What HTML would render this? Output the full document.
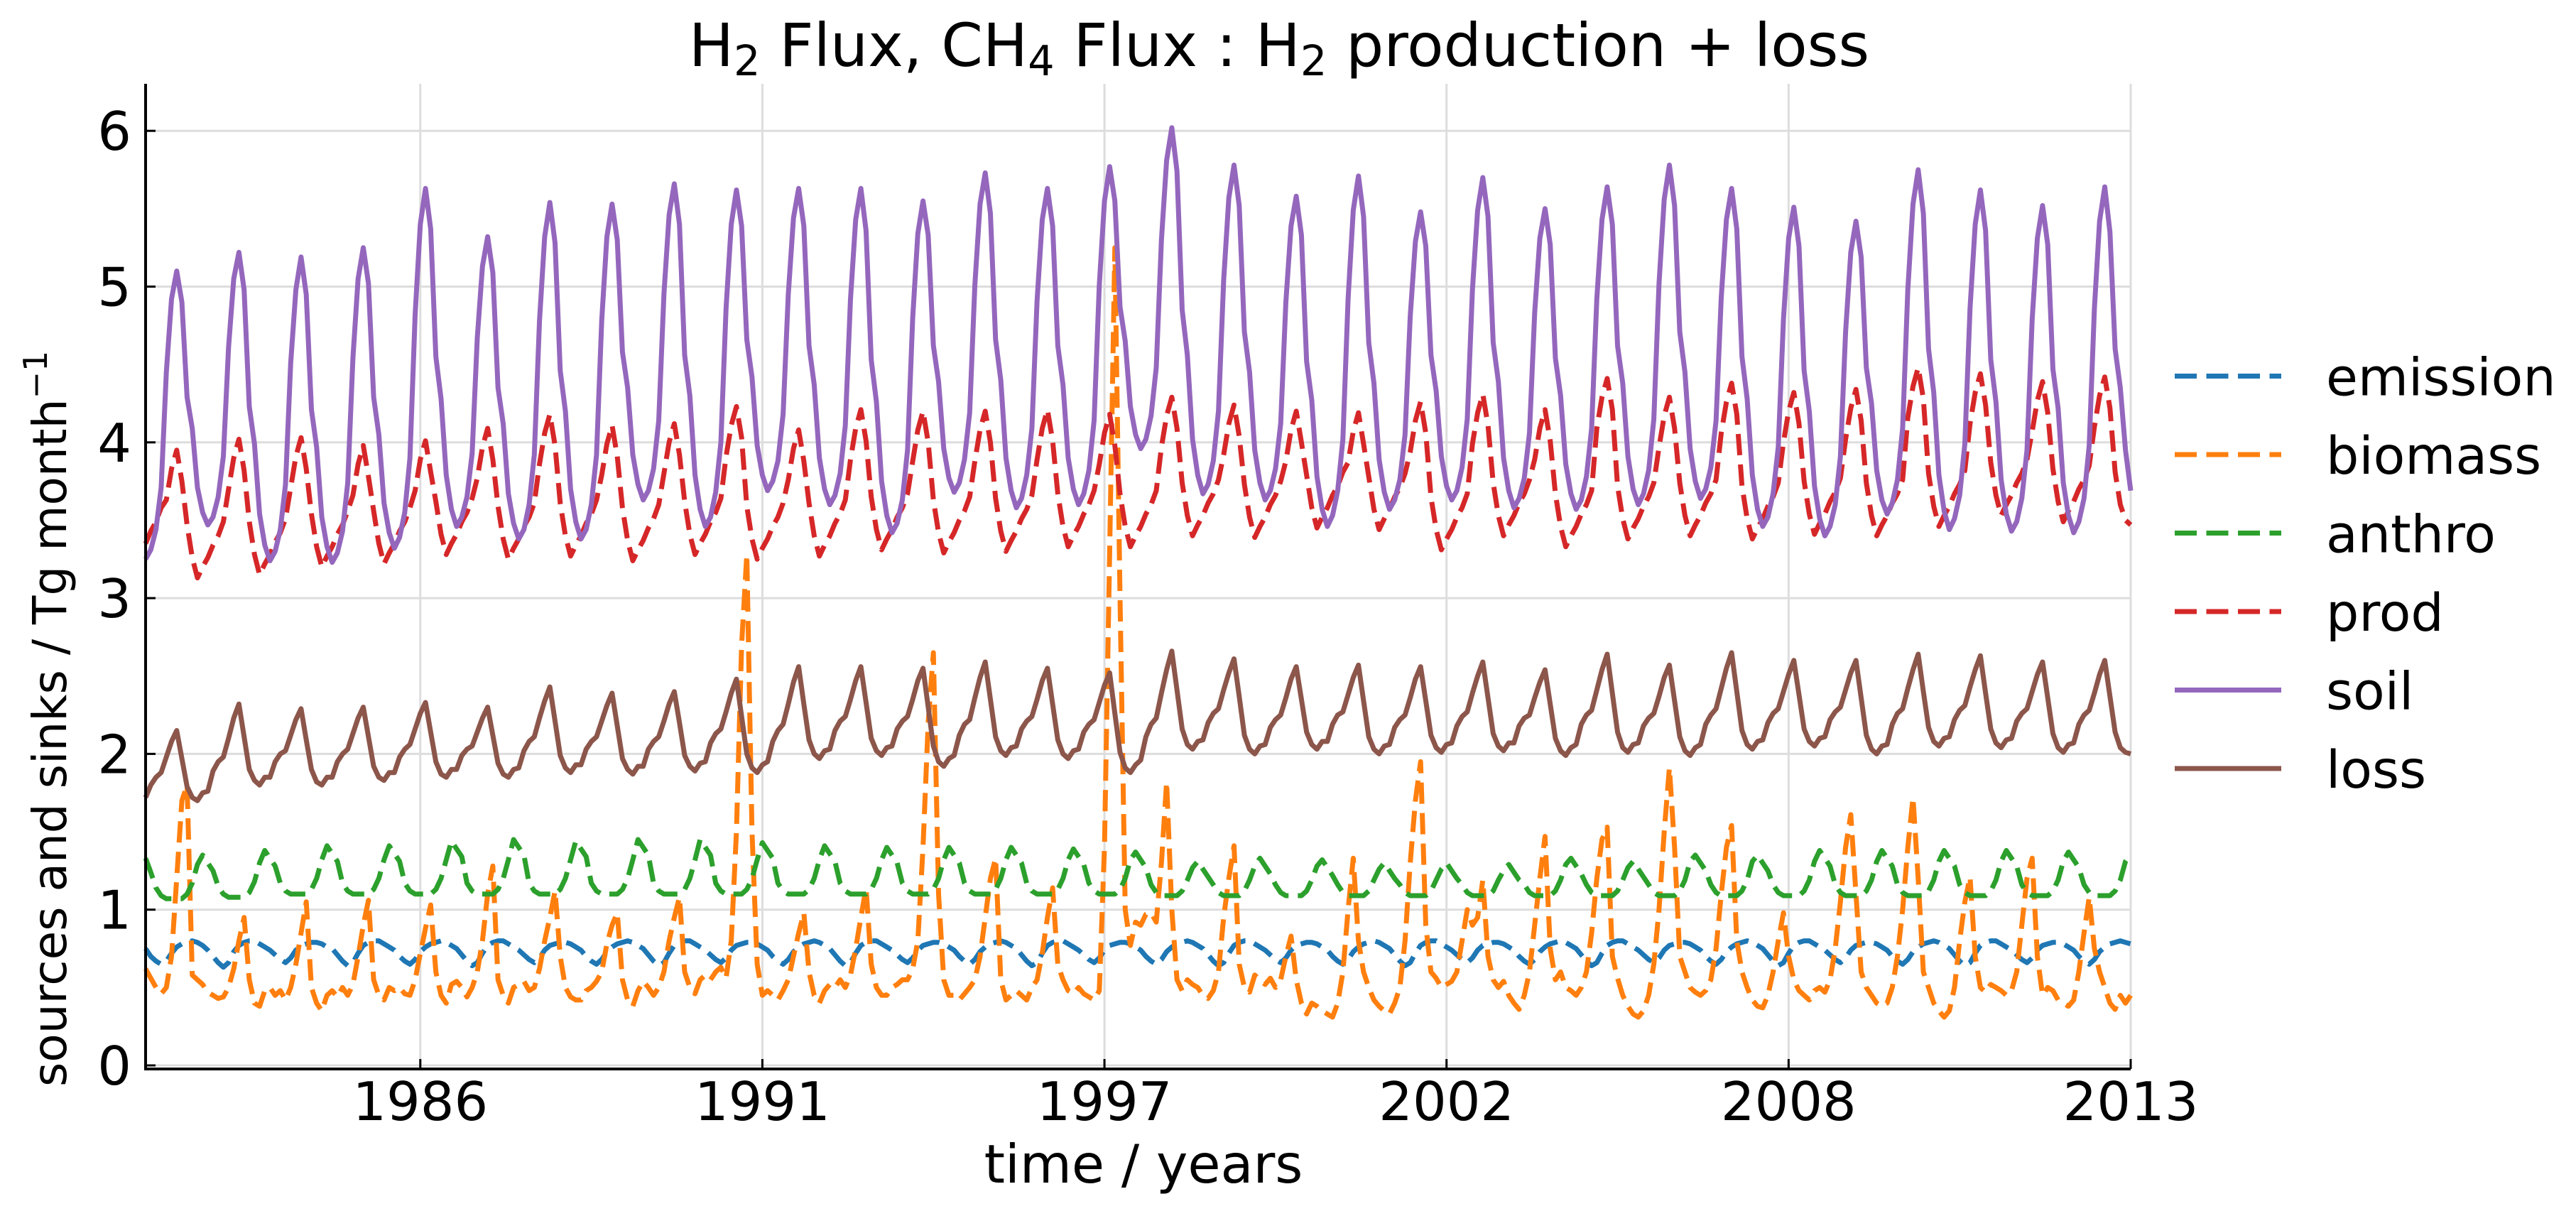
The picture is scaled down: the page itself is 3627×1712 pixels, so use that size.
<!DOCTYPE html>
<html>
<head>
<meta charset="utf-8">
<style>
  html,body{margin:0;padding:0;background:#fff;}
  svg{display:block;}
  text{font-family:"DejaVu Sans","Liberation Sans",sans-serif;fill:#000;}
</style>
</head>
<body>
<svg id="chart" xmlns="http://www.w3.org/2000/svg" width="3627" height="1712" viewBox="0 0 3627 1712">
  <rect x="0" y="0" width="3627" height="1712" fill="#ffffff"/>
  <g id="grid"></g>
  <g id="series"></g>
  <g id="axes"></g>
  <text x="1801" y="93" font-size="84" text-anchor="middle">H<tspan font-size="59" dy="13">2</tspan><tspan dy="-13"> Flux, CH</tspan><tspan font-size="59" dy="13">4</tspan><tspan dy="-13"> Flux : H</tspan><tspan font-size="59" dy="13">2</tspan><tspan dy="-13"> production + loss</tspan></text>
  <text x="1610" y="1665" font-size="75" text-anchor="middle">time / years</text>
  <text transform="translate(93,1530) rotate(-90)" x="0" y="0" font-size="66">sources and sinks / Tg month<tspan font-size="46" dy="-27">−1</tspan></text>
  <g id="legend"></g>
</svg>
<script>
const xTickIdx = [53, 119, 185, 251, 317, 383];
const xTickLabels = ["1986", "1991", "1997", "2002", "2008", "2013"];
const yTicks = [0, 1, 2, 3, 4, 5, 6];
const seriesNames = ["emission", "biomass", "anthro", "prod", "soil", "loss"];

const emission = [
0.75,0.70,0.67,0.65,0.67,0.72,0.76,0.78,0.79,0.80,0.79,0.77,
0.74,0.70,0.66,0.63,0.66,0.73,0.77,0.79,0.80,0.80,0.78,0.76,
0.74,0.71,0.68,0.66,0.69,0.74,0.77,0.78,0.79,0.79,0.78,0.76,
0.75,0.71,0.67,0.64,0.66,0.72,0.77,0.79,0.80,0.80,0.78,0.76,
0.74,0.70,0.67,0.65,0.68,0.73,0.76,0.78,0.79,0.80,0.79,0.77,
0.75,0.71,0.67,0.64,0.66,0.72,0.77,0.79,0.80,0.80,0.78,0.76,
0.74,0.71,0.68,0.66,0.69,0.74,0.77,0.78,0.79,0.79,0.78,0.76,
0.74,0.70,0.67,0.65,0.68,0.73,0.76,0.78,0.79,0.80,0.79,0.77,
0.75,0.71,0.67,0.64,0.66,0.72,0.77,0.79,0.80,0.80,0.78,0.76,
0.74,0.71,0.68,0.66,0.69,0.74,0.77,0.78,0.79,0.79,0.78,0.76,
0.74,0.70,0.67,0.65,0.68,0.73,0.76,0.78,0.79,0.80,0.79,0.77,
0.75,0.71,0.67,0.64,0.66,0.72,0.77,0.79,0.80,0.80,0.78,0.76,
0.74,0.71,0.68,0.66,0.69,0.74,0.77,0.78,0.79,0.79,0.78,0.76,
0.74,0.70,0.67,0.65,0.68,0.73,0.76,0.78,0.79,0.80,0.79,0.77,
0.75,0.71,0.67,0.64,0.66,0.72,0.77,0.79,0.80,0.80,0.78,0.76,
0.74,0.71,0.68,0.66,0.69,0.74,0.77,0.78,0.79,0.79,0.78,0.76,
0.74,0.70,0.67,0.65,0.68,0.73,0.76,0.78,0.79,0.80,0.79,0.77,
0.75,0.71,0.67,0.64,0.66,0.72,0.77,0.79,0.80,0.80,0.78,0.76,
0.74,0.71,0.68,0.66,0.69,0.74,0.77,0.78,0.79,0.79,0.78,0.76,
0.74,0.70,0.67,0.65,0.68,0.73,0.76,0.78,0.79,0.80,0.79,0.77,
0.75,0.71,0.67,0.64,0.66,0.72,0.77,0.79,0.80,0.80,0.78,0.76,
0.74,0.71,0.68,0.66,0.69,0.74,0.77,0.78,0.79,0.79,0.78,0.76,
0.74,0.70,0.67,0.65,0.68,0.73,0.76,0.78,0.79,0.80,0.79,0.77,
0.75,0.71,0.67,0.64,0.66,0.72,0.77,0.79,0.80,0.80,0.78,0.76,
0.74,0.71,0.68,0.66,0.69,0.74,0.77,0.78,0.79,0.79,0.78,0.76,
0.74,0.70,0.67,0.65,0.68,0.73,0.76,0.78,0.79,0.80,0.79,0.77,
0.75,0.71,0.67,0.64,0.66,0.72,0.77,0.79,0.80,0.80,0.78,0.76,
0.74,0.71,0.68,0.66,0.69,0.74,0.77,0.78,0.79,0.79,0.78,0.76,
0.74,0.70,0.67,0.65,0.68,0.73,0.76,0.78,0.79,0.80,0.79,0.77,
0.75,0.71,0.67,0.64,0.66,0.72,0.77,0.79,0.80,0.80,0.78,0.76,
0.74,0.71,0.68,0.66,0.69,0.74,0.77,0.78,0.79,0.79,0.78,0.76,
0.74,0.70,0.67,0.65,0.68,0.73,0.76,0.78,0.79,0.80,0.79,0.78
];

const biomass = [
0.62,0.56,0.50,0.46,0.50,0.70,1.20,1.70,1.80,0.58,0.55,0.52,
0.47,0.45,0.43,0.44,0.50,0.62,0.80,0.95,0.55,0.40,0.38,0.48,
0.50,0.45,0.48,0.42,0.50,0.65,0.85,1.05,0.50,0.40,0.35,0.45,
0.48,0.44,0.50,0.45,0.52,0.70,0.90,1.06,0.55,0.45,0.42,0.50,
0.48,0.50,0.46,0.45,0.55,0.72,0.88,1.03,0.60,0.45,0.40,0.52,
0.54,0.50,0.44,0.50,0.60,0.80,1.10,1.28,0.55,0.45,0.40,0.50,
0.52,0.54,0.48,0.50,0.62,0.80,0.95,1.12,0.70,0.50,0.44,0.42,
0.42,0.48,0.50,0.54,0.60,0.78,0.90,0.98,0.55,0.42,0.38,0.48,
0.54,0.50,0.45,0.50,0.60,0.80,0.95,1.08,0.60,0.50,0.46,0.55,
0.58,0.55,0.60,0.63,0.56,0.80,1.50,2.70,3.28,1.50,0.65,0.45,
0.48,0.45,0.42,0.48,0.55,0.70,0.85,0.98,0.60,0.45,0.40,0.48,
0.52,0.50,0.55,0.50,0.58,0.75,0.95,1.14,0.65,0.50,0.45,0.45,
0.50,0.52,0.55,0.55,0.62,0.80,1.40,2.20,2.65,1.10,0.55,0.45,
0.45,0.42,0.46,0.50,0.55,0.70,0.95,1.20,1.33,0.55,0.42,0.45,
0.48,0.45,0.42,0.50,0.55,0.72,0.95,1.14,0.65,0.55,0.48,0.46,
0.50,0.46,0.44,0.42,0.48,1.40,3.30,5.25,3.00,1.00,0.77,0.92,
0.90,0.97,0.98,0.92,1.30,1.82,1.00,0.55,0.48,0.55,0.52,0.50,
0.45,0.43,0.48,0.60,0.95,1.20,1.41,0.65,0.50,0.47,0.58,0.55,
0.52,0.56,0.50,0.55,0.70,0.83,0.55,0.40,0.33,0.40,0.38,0.35,
0.33,0.31,0.40,0.60,1.00,1.33,0.80,0.60,0.50,0.42,0.38,0.35,
0.33,0.40,0.50,0.80,1.30,1.70,1.95,0.90,0.60,0.56,0.50,0.52,
0.54,0.60,0.80,1.00,0.90,0.95,1.19,0.70,0.55,0.50,0.54,0.45,
0.40,0.36,0.45,0.60,0.90,1.20,1.47,0.75,0.55,0.60,0.50,0.48,
0.45,0.50,0.60,0.85,1.20,1.45,1.53,0.70,0.56,0.45,0.38,0.33,
0.31,0.35,0.45,0.65,1.00,1.50,1.91,1.40,0.70,0.60,0.50,0.47,
0.45,0.48,0.55,0.75,1.10,1.40,1.54,0.80,0.60,0.50,0.42,0.38,
0.37,0.45,0.60,0.80,0.98,0.70,0.55,0.48,0.45,0.42,0.48,0.50,
0.47,0.55,0.75,1.05,1.40,1.61,1.10,0.60,0.50,0.45,0.40,0.38,
0.40,0.50,0.70,1.00,1.40,1.72,1.20,0.60,0.50,0.40,0.35,0.31,
0.35,0.50,0.80,1.05,1.21,0.70,0.50,0.47,0.52,0.50,0.48,0.45,
0.48,0.60,0.90,1.20,1.33,0.70,0.45,0.50,0.48,0.42,0.40,0.38,
0.42,0.60,0.85,1.08,0.75,0.60,0.50,0.40,0.36,0.45,0.40,0.45
];

const anthro = [
1.33,1.24,1.14,1.09,1.07,1.07,1.07,1.07,1.10,1.17,1.29,1.35,
1.30,1.25,1.15,1.10,1.08,1.08,1.08,1.08,1.11,1.18,1.30,1.38,
1.33,1.28,1.17,1.12,1.10,1.10,1.10,1.10,1.13,1.20,1.32,1.41,
1.36,1.31,1.17,1.12,1.10,1.10,1.10,1.10,1.13,1.20,1.32,1.41,
1.36,1.31,1.17,1.12,1.10,1.10,1.10,1.10,1.13,1.20,1.32,1.44,
1.39,1.34,1.17,1.12,1.10,1.10,1.10,1.10,1.13,1.20,1.32,1.45,
1.40,1.35,1.17,1.12,1.10,1.10,1.10,1.10,1.13,1.20,1.32,1.44,
1.39,1.34,1.17,1.12,1.10,1.10,1.10,1.10,1.13,1.20,1.32,1.45,
1.40,1.35,1.17,1.12,1.10,1.10,1.10,1.10,1.13,1.20,1.32,1.45,
1.40,1.35,1.17,1.12,1.10,1.10,1.10,1.10,1.13,1.20,1.32,1.43,
1.38,1.33,1.17,1.12,1.10,1.10,1.10,1.10,1.13,1.20,1.32,1.41,
1.36,1.31,1.17,1.12,1.10,1.10,1.10,1.10,1.13,1.20,1.32,1.40,
1.35,1.30,1.17,1.12,1.10,1.10,1.10,1.10,1.13,1.20,1.32,1.40,
1.35,1.30,1.17,1.12,1.10,1.10,1.10,1.10,1.13,1.20,1.32,1.40,
1.35,1.30,1.17,1.12,1.10,1.10,1.10,1.10,1.13,1.20,1.32,1.39,
1.34,1.29,1.17,1.12,1.10,1.10,1.10,1.10,1.13,1.20,1.32,1.37,
1.32,1.27,1.16,1.11,1.09,1.09,1.09,1.09,1.12,1.19,1.27,1.31,
1.26,1.21,1.16,1.11,1.09,1.09,1.09,1.09,1.12,1.19,1.28,1.33,
1.28,1.23,1.16,1.11,1.09,1.09,1.09,1.09,1.12,1.19,1.28,1.32,
1.27,1.22,1.16,1.11,1.09,1.09,1.09,1.09,1.12,1.19,1.26,1.30,
1.25,1.20,1.16,1.11,1.09,1.09,1.09,1.09,1.12,1.19,1.26,1.30,
1.25,1.20,1.16,1.11,1.09,1.09,1.09,1.09,1.12,1.19,1.25,1.29,
1.24,1.19,1.16,1.11,1.09,1.09,1.09,1.09,1.12,1.19,1.29,1.33,
1.28,1.23,1.16,1.11,1.09,1.09,1.09,1.09,1.12,1.19,1.27,1.31,
1.26,1.21,1.16,1.11,1.09,1.09,1.09,1.09,1.12,1.19,1.31,1.35,
1.30,1.25,1.16,1.11,1.09,1.09,1.09,1.09,1.12,1.19,1.31,1.35,
1.30,1.25,1.16,1.11,1.09,1.09,1.09,1.09,1.12,1.19,1.31,1.38,
1.33,1.28,1.16,1.11,1.09,1.09,1.09,1.09,1.12,1.19,1.31,1.38,
1.33,1.28,1.16,1.11,1.09,1.09,1.09,1.09,1.12,1.19,1.31,1.38,
1.33,1.28,1.16,1.11,1.09,1.09,1.09,1.09,1.12,1.19,1.31,1.38,
1.33,1.28,1.16,1.11,1.09,1.09,1.09,1.09,1.12,1.19,1.31,1.37,
1.32,1.27,1.16,1.11,1.09,1.09,1.09,1.09,1.12,1.19,1.31,1.36
];

const prod = [
3.35,3.43,3.49,3.58,3.63,3.83,3.95,3.75,3.47,3.26,3.13,3.20,
3.26,3.34,3.40,3.49,3.70,3.90,4.02,3.82,3.49,3.28,3.15,3.22,
3.28,3.36,3.42,3.51,3.71,3.91,4.03,3.83,3.54,3.33,3.20,3.27,
3.33,3.41,3.47,3.56,3.66,3.86,3.98,3.78,3.56,3.35,3.22,3.29,
3.35,3.43,3.49,3.58,3.69,3.89,4.01,3.81,3.62,3.41,3.28,3.35,
3.41,3.49,3.55,3.64,3.77,3.97,4.09,3.89,3.59,3.38,3.25,3.32,
3.38,3.46,3.52,3.61,3.86,4.06,4.18,3.98,3.61,3.40,3.27,3.34,
3.40,3.48,3.54,3.63,3.79,3.99,4.11,3.91,3.58,3.37,3.24,3.31,
3.37,3.45,3.51,3.60,3.80,4.00,4.12,3.92,3.62,3.41,3.28,3.35,
3.41,3.49,3.55,3.64,3.91,4.11,4.23,4.03,3.59,3.38,3.25,3.32,
3.38,3.46,3.52,3.61,3.76,3.96,4.08,3.88,3.61,3.40,3.27,3.34,
3.40,3.48,3.54,3.63,3.89,4.09,4.21,4.01,3.65,3.44,3.31,3.38,
3.44,3.52,3.58,3.67,3.88,4.08,4.20,4.00,3.63,3.42,3.29,3.36,
3.42,3.50,3.56,3.65,3.88,4.08,4.20,4.00,3.64,3.43,3.30,3.37,
3.43,3.51,3.57,3.66,3.89,4.09,4.21,4.01,3.67,3.46,3.33,3.40,
3.46,3.54,3.60,3.69,3.86,4.06,4.18,3.98,3.67,3.46,3.33,3.40,
3.46,3.54,3.60,3.69,3.97,4.17,4.29,4.09,3.74,3.53,3.40,3.47,
3.53,3.61,3.67,3.76,3.92,4.12,4.24,4.04,3.73,3.52,3.39,3.46,
3.52,3.60,3.66,3.75,3.88,4.08,4.20,4.00,3.79,3.58,3.45,3.52,
3.58,3.66,3.72,3.81,3.87,4.07,4.19,3.99,3.78,3.57,3.44,3.51,
3.57,3.65,3.71,3.80,3.94,4.14,4.26,4.06,3.65,3.44,3.31,3.38,
3.44,3.52,3.58,3.67,3.99,4.19,4.31,4.11,3.74,3.53,3.40,3.47,
3.53,3.61,3.67,3.76,3.89,4.09,4.21,4.01,3.67,3.46,3.33,3.40,
3.46,3.54,3.60,3.69,4.09,4.29,4.41,4.21,3.72,3.51,3.38,3.45,
3.51,3.59,3.65,3.74,3.97,4.17,4.29,4.09,3.74,3.53,3.40,3.47,
3.53,3.61,3.67,3.76,4.06,4.26,4.38,4.18,3.72,3.51,3.38,3.45,
3.51,3.59,3.65,3.74,4.00,4.20,4.32,4.12,3.75,3.54,3.41,3.48,
3.54,3.62,3.68,3.77,4.02,4.22,4.34,4.14,3.74,3.53,3.40,3.47,
3.53,3.61,3.67,3.76,4.16,4.36,4.48,4.28,3.80,3.59,3.46,3.53,
3.59,3.67,3.73,3.82,4.12,4.32,4.44,4.24,3.87,3.66,3.53,3.60,
3.66,3.74,3.80,3.89,4.07,4.27,4.39,4.19,3.83,3.62,3.49,3.56,
3.62,3.70,3.76,3.85,4.10,4.30,4.42,4.22,3.81,3.60,3.50,3.47
];

const soil = [
3.25,3.31,3.44,3.71,4.45,4.92,5.10,4.90,4.29,4.09,3.71,3.55,
3.47,3.52,3.65,3.91,4.61,5.05,5.22,4.98,4.23,3.99,3.54,3.34,
3.24,3.30,3.44,3.73,4.51,4.98,5.19,4.95,4.21,3.97,3.52,3.33,
3.23,3.29,3.43,3.74,4.54,5.05,5.25,5.02,4.29,4.05,3.61,3.42,
3.32,3.39,3.55,3.90,4.82,5.40,5.63,5.37,4.55,4.28,3.79,3.57,
3.46,3.52,3.65,3.93,4.67,5.13,5.32,5.09,4.35,4.12,3.67,3.48,
3.38,3.44,3.60,3.92,4.78,5.32,5.54,5.28,4.46,4.20,3.70,3.49,
3.38,3.44,3.60,3.92,4.78,5.32,5.53,5.30,4.58,4.35,3.92,3.73,
3.63,3.69,3.83,4.14,4.95,5.46,5.66,5.40,4.56,4.30,3.79,3.57,
3.46,3.52,3.68,4.00,4.86,5.40,5.62,5.39,4.66,4.42,3.98,3.79,
3.69,3.75,3.88,4.18,4.95,5.44,5.63,5.39,4.62,4.37,3.90,3.70,
3.60,3.66,3.80,4.11,4.92,5.43,5.63,5.36,4.53,4.26,3.75,3.53,
3.42,3.48,3.63,3.95,4.80,5.34,5.55,5.33,4.62,4.39,3.96,3.77,
3.68,3.74,3.89,4.19,5.01,5.53,5.73,5.47,4.66,4.40,3.90,3.69,
3.58,3.64,3.79,4.09,4.91,5.43,5.63,5.39,4.62,4.37,3.90,3.70,
3.60,3.67,3.82,4.14,5.01,5.55,5.77,5.55,4.87,4.65,4.23,4.05,
3.96,4.02,4.17,4.48,5.30,5.81,6.02,5.74,4.85,4.56,4.02,3.79,
3.67,3.73,3.88,4.20,5.04,5.57,5.78,5.52,4.71,4.45,3.95,3.74,
3.63,3.69,3.83,4.12,4.90,5.39,5.58,5.33,4.52,4.27,3.78,3.57,
3.46,3.53,3.69,4.02,4.92,5.49,5.71,5.45,4.64,4.38,3.89,3.68,
3.57,3.63,3.76,4.05,4.81,5.29,5.48,5.26,4.56,4.33,3.91,3.72,
3.63,3.69,3.84,4.15,4.98,5.49,5.70,5.45,4.64,4.39,3.90,3.69,
3.58,3.64,3.77,4.06,4.83,5.31,5.50,5.27,4.54,4.30,3.86,3.67,
3.57,3.63,3.78,4.09,4.92,5.43,5.64,5.40,4.62,4.38,3.91,3.70,
3.60,3.67,3.82,4.15,5.02,5.56,5.78,5.52,4.71,4.45,3.96,3.75,
3.64,3.70,3.84,4.14,4.93,5.43,5.63,5.37,4.55,4.28,3.79,3.57,
3.46,3.52,3.67,3.97,4.79,5.31,5.51,5.26,4.46,4.20,3.72,3.51,
3.40,3.46,3.60,3.91,4.71,5.22,5.42,5.19,4.48,4.25,3.82,3.63,
3.54,3.61,3.76,4.09,4.98,5.53,5.75,5.47,4.60,4.32,3.79,3.56,
3.44,3.51,3.66,3.99,4.86,5.40,5.62,5.36,4.53,4.26,3.76,3.54,
3.43,3.49,3.64,3.95,4.79,5.31,5.52,5.27,4.47,4.22,3.74,3.53,
3.42,3.49,3.64,3.98,4.86,5.42,5.64,5.35,4.60,4.35,3.95,3.69
];

const loss = [
1.72,1.80,1.85,1.88,1.98,2.08,2.15,1.97,1.79,1.72,1.70,1.75,
1.76,1.89,1.95,1.98,2.10,2.23,2.32,2.11,1.90,1.83,1.80,1.85,
1.85,1.95,2.00,2.02,2.12,2.22,2.29,2.09,1.90,1.82,1.80,1.85,
1.85,1.95,2.00,2.03,2.13,2.23,2.30,2.11,1.92,1.85,1.83,1.88,
1.88,1.98,2.03,2.06,2.16,2.26,2.33,2.14,1.95,1.87,1.85,1.90,
1.90,1.99,2.03,2.05,2.14,2.23,2.30,2.12,1.94,1.87,1.85,1.90,
1.91,2.02,2.08,2.11,2.23,2.34,2.43,2.21,1.99,1.91,1.88,1.93,
1.93,2.03,2.08,2.11,2.21,2.31,2.39,2.18,1.97,1.90,1.87,1.92,
1.92,2.03,2.08,2.11,2.21,2.32,2.40,2.20,1.99,1.92,1.89,1.94,
1.95,2.07,2.13,2.16,2.27,2.39,2.48,2.24,2.00,1.91,1.88,1.93,
1.95,2.08,2.15,2.19,2.32,2.46,2.56,2.32,2.09,2.00,1.97,2.02,
2.03,2.15,2.21,2.24,2.35,2.47,2.56,2.33,2.10,2.02,1.99,2.04,
2.05,2.16,2.21,2.24,2.35,2.47,2.55,2.30,2.05,1.95,1.92,1.97,
1.99,2.12,2.19,2.22,2.36,2.49,2.59,2.35,2.11,2.02,1.99,2.04,
2.05,2.16,2.21,2.24,2.35,2.47,2.55,2.32,2.09,2.00,1.97,2.02,
2.03,2.14,2.19,2.22,2.33,2.44,2.52,2.26,2.01,1.91,1.88,1.93,
1.96,2.11,2.19,2.23,2.39,2.54,2.66,2.41,2.16,2.06,2.03,2.08,
2.09,2.20,2.26,2.29,2.41,2.52,2.61,2.37,2.12,2.03,2.00,2.05,
2.06,2.17,2.22,2.25,2.36,2.48,2.56,2.35,2.14,2.06,2.03,2.08,
2.08,2.19,2.25,2.27,2.38,2.49,2.57,2.34,2.11,2.03,2.00,2.05,
2.06,2.17,2.22,2.25,2.36,2.48,2.56,2.34,2.12,2.04,2.01,2.06,
2.07,2.18,2.24,2.27,2.39,2.50,2.59,2.36,2.13,2.05,2.02,2.07,
2.07,2.18,2.23,2.25,2.36,2.46,2.54,2.32,2.10,2.02,1.99,2.04,
2.06,2.19,2.25,2.28,2.41,2.54,2.64,2.39,2.14,2.04,2.01,2.06,
2.07,2.18,2.23,2.26,2.37,2.49,2.57,2.34,2.11,2.02,1.99,2.04,
2.06,2.19,2.25,2.29,2.42,2.55,2.65,2.40,2.15,2.06,2.03,2.08,
2.09,2.20,2.26,2.29,2.40,2.51,2.60,2.38,2.16,2.08,2.05,2.10,
2.11,2.22,2.27,2.30,2.41,2.52,2.60,2.36,2.12,2.03,2.00,2.05,
2.06,2.19,2.26,2.29,2.42,2.54,2.64,2.40,2.17,2.08,2.05,2.10,
2.11,2.22,2.28,2.31,2.43,2.54,2.63,2.39,2.16,2.07,2.04,2.09,
2.10,2.21,2.26,2.29,2.40,2.51,2.59,2.36,2.13,2.04,2.01,2.06,
2.07,2.19,2.25,2.28,2.39,2.51,2.60,2.37,2.14,2.04,2.01,2.00
];

const NS = "http://www.w3.org/2000/svg";
const X0 = 205, X1 = 3000, Y0 = 1500, PX_PER_UNIT = 219.3;
const NPTS = 384;
function xScale(i) { return X0 + i * (X1 - X0) / (NPTS - 1); }
function yScale(v) { return Y0 - v * PX_PER_UNIT; }

const gridG = document.getElementById('grid');
const axesG = document.getElementById('axes');
const seriesG = document.getElementById('series');
const legendG = document.getElementById('legend');

function mk(tag, attrs, parent) {
  const el = document.createElementNS(NS, tag);
  for (const k in attrs) el.setAttribute(k, attrs[k]);
  parent.appendChild(el);
  return el;
}

yTicks.forEach(function (v) {
  const y = yScale(v);
  const g = mk('line', {x1: X0, x2: X1, y1: y, y2: y, stroke: '#dddddd', 'stroke-width': 3}, gridG);
  
  
});
xTickIdx.forEach(function (idx, k) {
  const x = xScale(idx);
  const g = mk('line', {x1: x, x2: x, y1: 118, y2: 1505, stroke: '#dddddd', 'stroke-width': 3}, gridG);
  
  
});

const colors = {emission: '#1f77b4', biomass: '#ff7f0e', anthro: '#2ca02c', prod: '#d62728', soil: '#9467bd', loss: '#8c564b'};
const dashed = {emission: true, biomass: true, anthro: true, prod: true, soil: false, loss: false};
const dataMap = {emission: emission, biomass: biomass, anthro: anthro, prod: prod, soil: soil, loss: loss};

seriesNames.forEach(function (name) {
  const vals = dataMap[name];
  let d = '';
  for (let i = 0; i < vals.length; i++) {
    d += (i === 0 ? 'M' : 'L') + xScale(i).toFixed(1) + ' ' + yScale(vals[i]).toFixed(1);
  }
  const p = mk('path', {d: d, fill: 'none', stroke: colors[name], 'stroke-width': 7, 'stroke-linejoin': 'round'}, seriesG);
  if (dashed[name]) p.setAttribute('stroke-dasharray', '30 13');
  
  
});

const ls = mk('line', {x1: X0, x2: X0, y1: 118, y2: 1505, stroke: '#000', 'stroke-width': 4}, axesG);


const bs = mk('line', {x1: X0 - 2, x2: X1, y1: 1505, y2: 1505, stroke: '#000', 'stroke-width': 4}, axesG);



yTicks.forEach(function (v) {
  const y = yScale(v);
  const t = mk('line', {x1: X0, x2: X0 + 14, y1: y, y2: y, stroke: '#000', 'stroke-width': 3}, axesG);
  
  
  const lbl = mk('text', {x: 185, y: y + 27, 'font-size': 75, 'text-anchor': 'end'}, axesG);
  lbl.textContent = String(v);
  
  
});

xTickIdx.forEach(function (idx, k) {
  const x = xScale(idx);
  const t = mk('line', {x1: x, x2: x, y1: 1505, y2: 1491, stroke: '#000', 'stroke-width': 3}, axesG);
  
  
  const lbl = mk('text', {x: x, y: 1577, 'font-size': 75, 'text-anchor': 'middle'}, axesG);
  lbl.textContent = xTickLabels[k];
  
  
});

seriesNames.forEach(function (name, k) {
  const y = 529.5 + k * 110.5;
  const entry = mk('g', {}, legendG);
  
  
  const ln = mk('line', {x1: 3062, x2: 3212, y1: y, y2: y, stroke: colors[name], 'stroke-width': 7}, entry);
  if (dashed[name]) ln.setAttribute('stroke-dasharray', '31 13.5');
  
  
  const tx = mk('text', {x: 3275, y: y + 27, 'font-size': 73}, entry);
  tx.textContent = name;
  
  
});
</script>
</body>
</html>
